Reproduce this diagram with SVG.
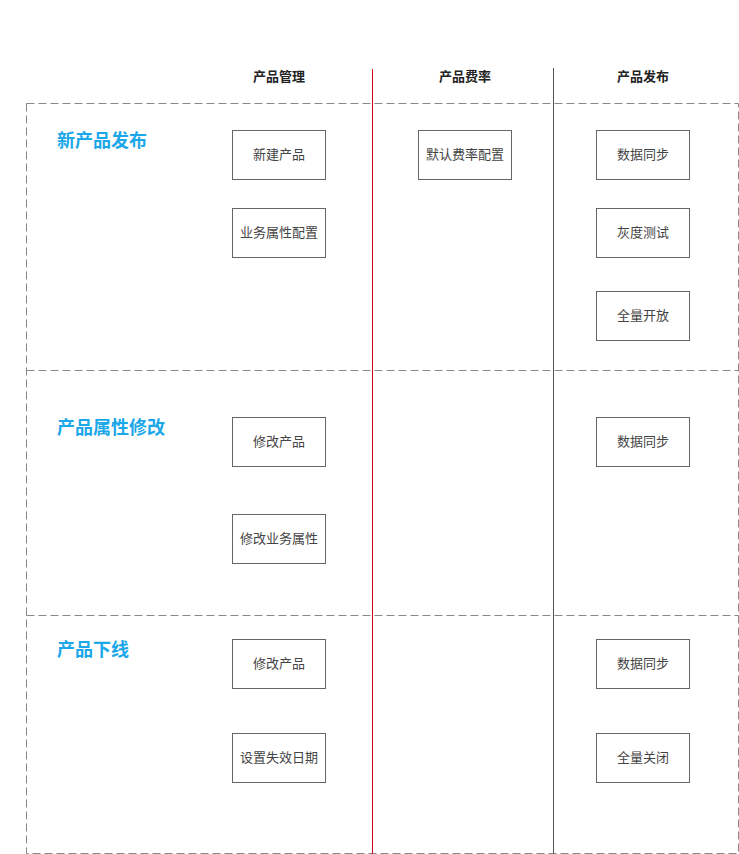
<svg xmlns="http://www.w3.org/2000/svg" width="739" height="854" viewBox="0 0 739 854">
<style>
.h{font:bold 13px "Noto Sans CJK SC",sans-serif;fill:#222;text-anchor:middle}
.t{font:bold 18px "Noto Sans CJK SC",sans-serif;fill:#1ba7e8}
.b rect{fill:#fff;stroke:#666;stroke-width:1}
.b text{font:13px "Noto Sans CJK SC",sans-serif;fill:#444;text-anchor:middle}
.d{fill:none;stroke:#888;stroke-width:1;stroke-dasharray:8 4}
</style>
<rect width="739" height="854" fill="#fff"/>
<g id="frame">
<rect class="d" x="26.5" y="103.5" width="712" height="750"/>
<line class="d" x1="26.5" y1="370.5" x2="738.5" y2="370.5"/>
<line class="d" x1="26.5" y1="615.5" x2="738.5" y2="615.5"/>
</g>
<g id="connectors">
<line x1="372.5" y1="69" x2="372.5" y2="854" stroke="#d0021b"/>
<line x1="553.5" y1="68" x2="553.5" y2="854" stroke="#555"/>
</g>
<g id="headers">
<text class="h" x="279" y="81">产品管理</text>
<text class="h" x="465" y="81">产品费率</text>
<text class="h" x="643" y="81">产品发布</text>
</g>
<g id="titles">
<text class="t" x="57" y="147">新产品发布</text>
<text class="t" x="57" y="434">产品属性修改</text>
<text class="t" x="57" y="656">产品下线</text>
</g>
<g id="n1" class="b"><rect x="232.5" y="130.5" width="93" height="49"/><text x="279" y="159">新建产品</text></g>
<g id="n2" class="b"><rect x="232.5" y="208.5" width="93" height="49"/><text x="279" y="237">业务属性配置</text></g>
<g id="n3" class="b"><rect x="418.5" y="130.5" width="93" height="49"/><text x="465" y="159">默认费率配置</text></g>
<g id="n4" class="b"><rect x="596.5" y="130.5" width="93" height="49"/><text x="643" y="159">数据同步</text></g>
<g id="n5" class="b"><rect x="596.5" y="208.5" width="93" height="49"/><text x="643" y="237">灰度测试</text></g>
<g id="n6" class="b"><rect x="596.5" y="291.5" width="93" height="49"/><text x="643" y="320">全量开放</text></g>
<g id="n7" class="b"><rect x="232.5" y="417.5" width="93" height="49"/><text x="279" y="446">修改产品</text></g>
<g id="n8" class="b"><rect x="232.5" y="514.5" width="93" height="49"/><text x="279" y="543">修改业务属性</text></g>
<g id="n9" class="b"><rect x="596.5" y="417.5" width="93" height="49"/><text x="643" y="446">数据同步</text></g>
<g id="n10" class="b"><rect x="232.5" y="639.5" width="93" height="49"/><text x="279" y="668">修改产品</text></g>
<g id="n11" class="b"><rect x="232.5" y="733.5" width="93" height="49"/><text x="279" y="762">设置失效日期</text></g>
<g id="n12" class="b"><rect x="596.5" y="639.5" width="93" height="49"/><text x="643" y="668">数据同步</text></g>
<g id="n13" class="b"><rect x="596.5" y="733.5" width="93" height="49"/><text x="643" y="762">全量关闭</text></g>
</svg>
